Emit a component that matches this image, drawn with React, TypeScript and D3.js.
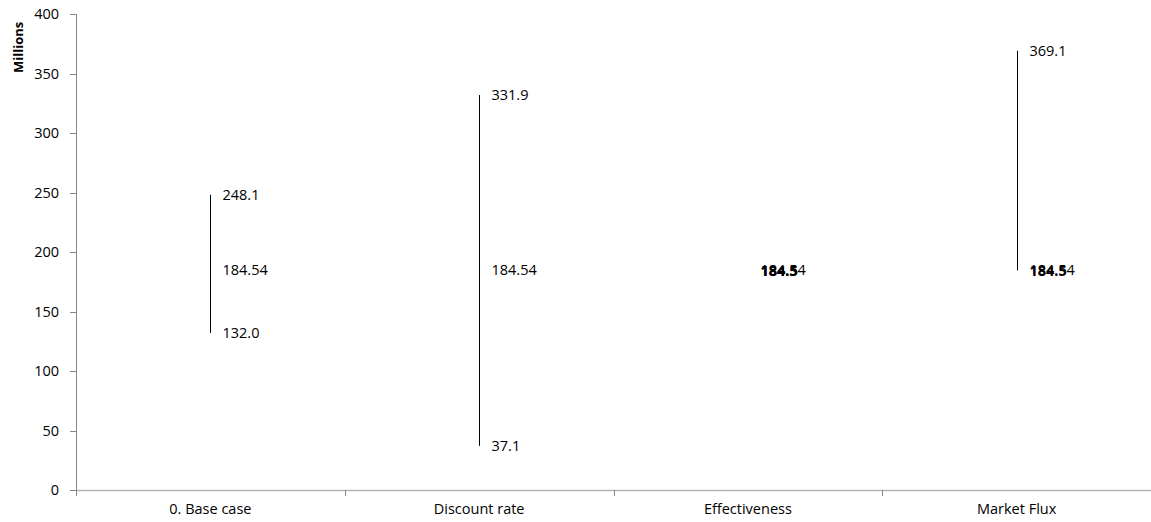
import React from "react";
import * as d3 from "d3";

const categories = ["0. Base case", "Discount rate", "Effectiveness", "Market Flux"];
const lowValues = [132.0, 37.1, 184.5, 184.5];
const midValues = [184.54, 184.54, 184.54, 184.54];
const highValues = [248.1, 331.9, 184.5, 369.1];
const lowLabels = ["132.0", "37.1", "184.5", "184.5"];
const midLabels = ["184.54", "184.54", "184.54", "184.54"];
const highLabels = ["248.1", "331.9", "184.5", "369.1"];
const yTicks = [0, 50, 100, 150, 200, 250, 300, 350, 400];

const W = 1151;
const H = 522;
const margin = { left: 76, right: 0, top: 14, bottom: 32 };
const font = "'Open Sans', 'Noto Sans', sans-serif";
const fs = 14.5;

export default function App() {
  const x = d3.scaleBand<string>().domain(categories).range([margin.left, W - margin.right]).padding(0);
  const y = d3.scaleLinear().domain([0, 400]).range([H - margin.bottom, margin.top]);
  const x0 = margin.left;
  const yBase = y(0);
  const tickEdges = categories.map((c) => x(c)!).concat([W - margin.right]);

  return (
    <svg width={W} height={H} style={{ position: "absolute", left: 0, top: 0, background: "#fff" }}>
      <line x1={x0 + 0.5} x2={x0 + 0.5} y1={y(400)} y2={yBase} stroke="#868686" strokeWidth={1} />
      {yTicks.map((t) => (
        <g key={t}>
          <line x1={x0 - 6} x2={x0} y1={Math.round(y(t)) + 0.5} y2={Math.round(y(t)) + 0.5} stroke="#868686" />
          <text x={x0 - 17} y={y(t)} dy="0.35em" textAnchor="end" fontFamily={font} fontSize={fs} fill="#000">
            {t}
          </text>
        </g>
      ))}
      <text
        transform={`translate(23, ${y(372)}) rotate(-90)`}
        textAnchor="middle"
        fontFamily={font}
        fontSize={13}
        fontWeight="bold"
        fill="#000"
      >
        Millions
      </text>
      <line x1={x0} x2={W - margin.right} y1={Math.round(yBase) + 0.5} y2={Math.round(yBase) + 0.5} stroke="#b3b3b3" strokeWidth={1.5} />
      {tickEdges.map((e, i) => (
        <line key={i} x1={Math.round(e) + 0.5} x2={Math.round(e) + 0.5} y1={yBase} y2={yBase + 6} stroke="#868686" />
      ))}
      {categories.map((c) => (
        <text key={c} x={x(c)! + x.bandwidth() / 2} y={H - 8} textAnchor="middle" fontFamily={font} fontSize={fs} fill="#000">
          {c}
        </text>
      ))}
      {categories.map((c, i) => {
        const cx = Math.round(x(c)! + x.bandwidth() / 2) + 0.5;
        const lx = cx + 12;
        const lowSame = Math.abs(lowValues[i] - midValues[i]) < 0.1;
        const highSame = Math.abs(highValues[i] - midValues[i]) < 0.1;
        return (
          <g key={c}>
            {highValues[i] !== lowValues[i] && (
              <line x1={cx} x2={cx} y1={y(highValues[i])} y2={y(lowValues[i])} stroke="#000" strokeWidth={1} />
            )}
            <text x={lx} y={y(midValues[i])} dy="0.35em" fontFamily={font} fontSize={fs} fill="#000">
              {midLabels[i]}
            </text>
            <text x={lx} y={y(highValues[i])} dy="0.35em" fontFamily={font} fontSize={fs} fill="#000" fontWeight={highSame ? "bold" : "normal"}>
              {highLabels[i]}
            </text>
            <text x={lx} y={y(lowValues[i])} dy="0.35em" fontFamily={font} fontSize={fs} fill="#000" fontWeight={lowSame ? "bold" : "normal"}>
              {lowLabels[i]}
            </text>
          </g>
        );
      })}
    </svg>
  );
}
